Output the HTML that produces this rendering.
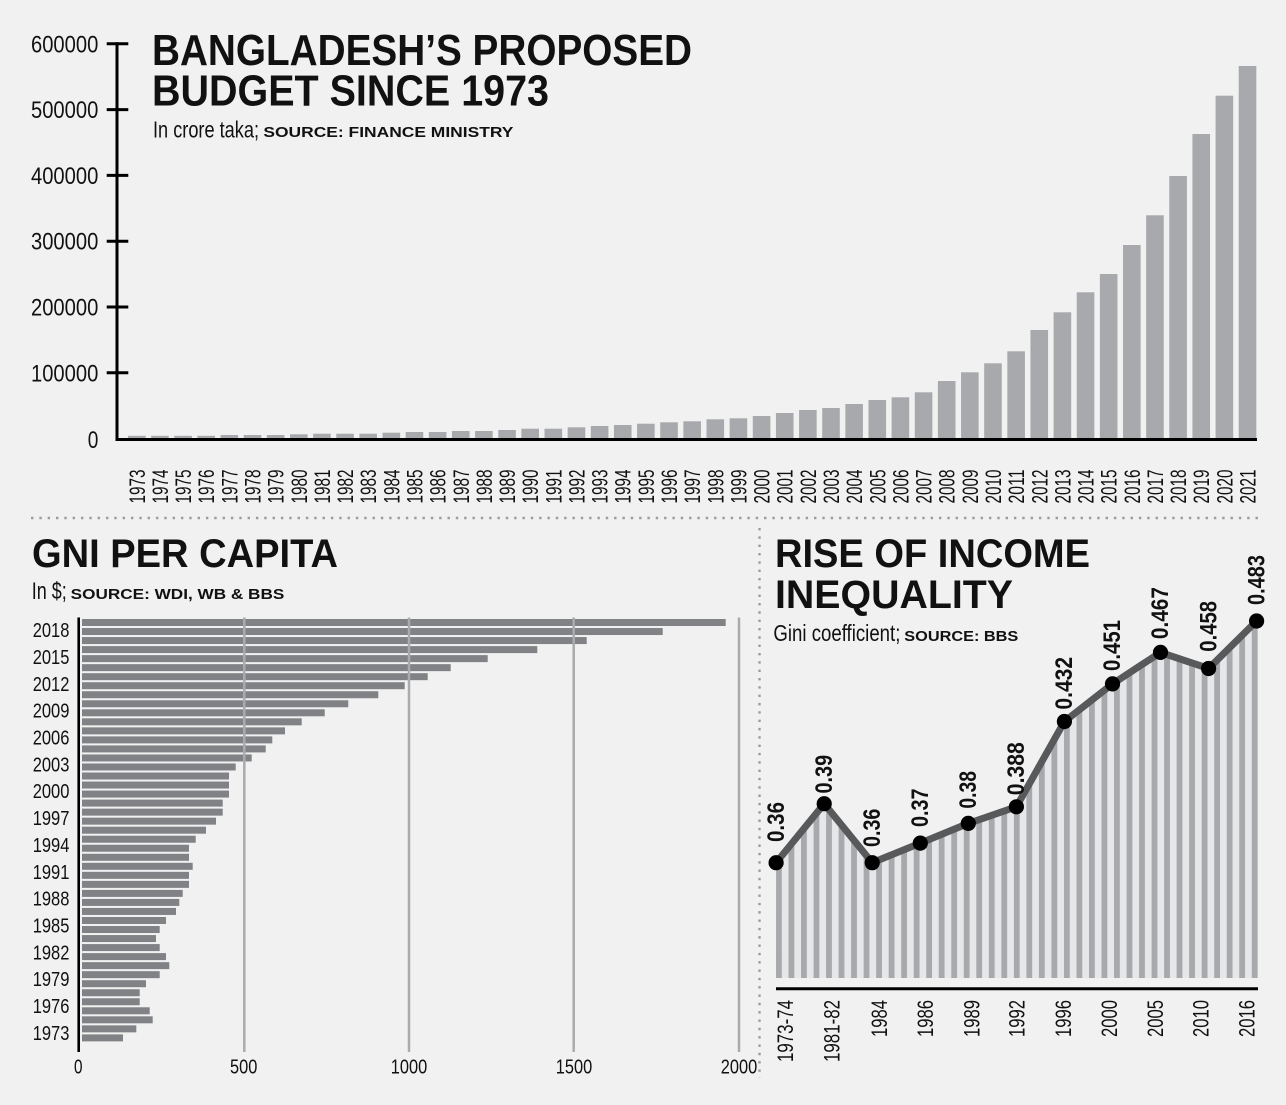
<!DOCTYPE html>
<html>
<head>
<meta charset="utf-8">
<style>
html,body{margin:0;padding:0;background:#f1f1f1;}
svg{display:block;}
text{font-family:"Liberation Sans",sans-serif;fill:#111;}
.b{font-weight:bold;}
</style>
</head>
<body>
<svg width="1286" height="1105" viewBox="0 0 1286 1105" xmlns="http://www.w3.org/2000/svg">
<defs>
<pattern id="st" x="776" y="0" width="12.52" height="10" patternUnits="userSpaceOnUse">
<rect width="12.52" height="10" fill="#e6e7e8"/>
<rect width="5.8" height="10" fill="#a7a9ac"/>
</pattern>
</defs>
<rect width="1286" height="1105" fill="#f1f1f1"/>

<!-- ===== TOP CHART ===== -->
<g fill="#a7a9ac">
<rect x="128.00" y="435.8" width="17.6" height="2.2"/>
<rect x="151.14" y="435.8" width="17.6" height="2.2"/>
<rect x="174.28" y="435.8" width="17.6" height="2.2"/>
<rect x="197.42" y="435.8" width="17.6" height="2.2"/>
<rect x="220.56" y="435" width="17.6" height="3"/>
<rect x="243.70" y="435" width="17.6" height="3"/>
<rect x="266.84" y="435" width="17.6" height="3"/>
<rect x="289.98" y="434.3" width="17.6" height="3.7"/>
<rect x="313.12" y="433.7" width="17.6" height="4.3"/>
<rect x="336.26" y="433.7" width="17.6" height="4.3"/>
<rect x="359.40" y="433.7" width="17.6" height="4.3"/>
<rect x="382.54" y="432.7" width="17.6" height="5.3"/>
<rect x="405.68" y="432" width="17.6" height="6"/>
<rect x="428.82" y="432" width="17.6" height="6"/>
<rect x="451.96" y="431" width="17.6" height="7"/>
<rect x="475.10" y="431" width="17.6" height="7"/>
<rect x="498.24" y="430" width="17.6" height="8"/>
<rect x="521.38" y="428.7" width="17.6" height="9.3"/>
<rect x="544.52" y="428.7" width="17.6" height="9.3"/>
<rect x="567.66" y="427.3" width="17.6" height="10.7"/>
<rect x="590.80" y="426" width="17.6" height="12"/>
<rect x="613.94" y="425" width="17.6" height="13"/>
<rect x="637.08" y="423.7" width="17.6" height="14.3"/>
<rect x="660.22" y="422.3" width="17.6" height="15.7"/>
<rect x="683.36" y="421.3" width="17.6" height="16.7"/>
<rect x="706.50" y="419.3" width="17.6" height="18.7"/>
<rect x="729.64" y="418.3" width="17.6" height="19.7"/>
<rect x="752.78" y="416" width="17.6" height="22"/>
<rect x="775.92" y="413" width="17.6" height="25"/>
<rect x="799.06" y="410" width="17.6" height="28"/>
<rect x="822.20" y="408" width="17.6" height="30"/>
<rect x="845.34" y="404" width="17.6" height="34"/>
<rect x="868.48" y="400" width="17.6" height="38"/>
<rect x="891.62" y="397.3" width="17.6" height="40.7"/>
<rect x="914.76" y="392.3" width="17.6" height="45.7"/>
<rect x="937.90" y="381" width="17.6" height="57"/>
<rect x="961.04" y="372.3" width="17.6" height="65.7"/>
<rect x="984.18" y="363.3" width="17.6" height="74.7"/>
<rect x="1007.32" y="351.3" width="17.6" height="86.7"/>
<rect x="1030.46" y="330" width="17.6" height="108"/>
<rect x="1053.60" y="312.3" width="17.6" height="125.7"/>
<rect x="1076.74" y="292.3" width="17.6" height="145.7"/>
<rect x="1099.88" y="274" width="17.6" height="164"/>
<rect x="1123.02" y="245" width="17.6" height="193"/>
<rect x="1146.16" y="215.3" width="17.6" height="222.7"/>
<rect x="1169.30" y="176" width="17.6" height="262"/>
<rect x="1192.44" y="134" width="17.6" height="304"/>
<rect x="1215.58" y="95.7" width="17.6" height="342.3"/>
<rect x="1238.72" y="66" width="17.6" height="372"/>
</g>

<!-- axes -->
<line x1="117" y1="42.3" x2="117" y2="441" stroke="#000" stroke-width="3"/>
<line x1="115.5" y1="439.5" x2="1257" y2="439.5" stroke="#000" stroke-width="3"/>
<g stroke="#000" stroke-width="3">
<line x1="106.7" y1="43.8" x2="128.3" y2="43.8"/>
<line x1="106.7" y1="109.6" x2="128.3" y2="109.6"/>
<line x1="106.7" y1="175.4" x2="128.3" y2="175.4"/>
<line x1="106.7" y1="241.2" x2="128.3" y2="241.2"/>
<line x1="106.7" y1="307" x2="128.3" y2="307"/>
<line x1="106.7" y1="372.8" x2="128.3" y2="372.8"/>
</g>
<g font-size="24">
<text x="31" y="52.3" textLength="67.3" lengthAdjust="spacingAndGlyphs">600000</text>
<text x="31" y="118.1" textLength="67.3" lengthAdjust="spacingAndGlyphs">500000</text>
<text x="31" y="183.9" textLength="67.3" lengthAdjust="spacingAndGlyphs">400000</text>
<text x="31" y="249.7" textLength="67.3" lengthAdjust="spacingAndGlyphs">300000</text>
<text x="31" y="315.5" textLength="67.3" lengthAdjust="spacingAndGlyphs">200000</text>
<text x="31" y="381.3" textLength="67.3" lengthAdjust="spacingAndGlyphs">100000</text>
<text x="87.7" y="447.8" textLength="10.6" lengthAdjust="spacingAndGlyphs">0</text>
</g>

<!-- year labels -->
<g transform="rotate(-90)" font-size="22">
<text x="-503.5" y="144.8" textLength="34" lengthAdjust="spacingAndGlyphs">1973</text>
<text x="-503.5" y="167.94" textLength="34" lengthAdjust="spacingAndGlyphs">1974</text>
<text x="-503.5" y="191.08" textLength="34" lengthAdjust="spacingAndGlyphs">1975</text>
<text x="-503.5" y="214.22" textLength="34" lengthAdjust="spacingAndGlyphs">1976</text>
<text x="-503.5" y="237.36" textLength="34" lengthAdjust="spacingAndGlyphs">1977</text>
<text x="-503.5" y="260.5" textLength="34" lengthAdjust="spacingAndGlyphs">1978</text>
<text x="-503.5" y="283.64" textLength="34" lengthAdjust="spacingAndGlyphs">1979</text>
<text x="-503.5" y="306.78" textLength="34" lengthAdjust="spacingAndGlyphs">1980</text>
<text x="-503.5" y="329.92" textLength="34" lengthAdjust="spacingAndGlyphs">1981</text>
<text x="-503.5" y="353.06" textLength="34" lengthAdjust="spacingAndGlyphs">1982</text>
<text x="-503.5" y="376.2" textLength="34" lengthAdjust="spacingAndGlyphs">1983</text>
<text x="-503.5" y="399.34" textLength="34" lengthAdjust="spacingAndGlyphs">1984</text>
<text x="-503.5" y="422.48" textLength="34" lengthAdjust="spacingAndGlyphs">1985</text>
<text x="-503.5" y="445.62" textLength="34" lengthAdjust="spacingAndGlyphs">1986</text>
<text x="-503.5" y="468.76" textLength="34" lengthAdjust="spacingAndGlyphs">1987</text>
<text x="-503.5" y="491.9" textLength="34" lengthAdjust="spacingAndGlyphs">1988</text>
<text x="-503.5" y="515.04" textLength="34" lengthAdjust="spacingAndGlyphs">1989</text>
<text x="-503.5" y="538.18" textLength="34" lengthAdjust="spacingAndGlyphs">1990</text>
<text x="-503.5" y="561.32" textLength="34" lengthAdjust="spacingAndGlyphs">1991</text>
<text x="-503.5" y="584.46" textLength="34" lengthAdjust="spacingAndGlyphs">1992</text>
<text x="-503.5" y="607.6" textLength="34" lengthAdjust="spacingAndGlyphs">1993</text>
<text x="-503.5" y="630.74" textLength="34" lengthAdjust="spacingAndGlyphs">1994</text>
<text x="-503.5" y="653.88" textLength="34" lengthAdjust="spacingAndGlyphs">1995</text>
<text x="-503.5" y="677.02" textLength="34" lengthAdjust="spacingAndGlyphs">1996</text>
<text x="-503.5" y="700.16" textLength="34" lengthAdjust="spacingAndGlyphs">1997</text>
<text x="-503.5" y="723.3" textLength="34" lengthAdjust="spacingAndGlyphs">1998</text>
<text x="-503.5" y="746.44" textLength="34" lengthAdjust="spacingAndGlyphs">1999</text>
<text x="-503.5" y="769.58" textLength="34" lengthAdjust="spacingAndGlyphs">2000</text>
<text x="-503.5" y="792.72" textLength="34" lengthAdjust="spacingAndGlyphs">2001</text>
<text x="-503.5" y="815.86" textLength="34" lengthAdjust="spacingAndGlyphs">2002</text>
<text x="-503.5" y="839.0" textLength="34" lengthAdjust="spacingAndGlyphs">2003</text>
<text x="-503.5" y="862.14" textLength="34" lengthAdjust="spacingAndGlyphs">2004</text>
<text x="-503.5" y="885.28" textLength="34" lengthAdjust="spacingAndGlyphs">2005</text>
<text x="-503.5" y="908.42" textLength="34" lengthAdjust="spacingAndGlyphs">2006</text>
<text x="-503.5" y="931.56" textLength="34" lengthAdjust="spacingAndGlyphs">2007</text>
<text x="-503.5" y="954.7" textLength="34" lengthAdjust="spacingAndGlyphs">2008</text>
<text x="-503.5" y="977.84" textLength="34" lengthAdjust="spacingAndGlyphs">2009</text>
<text x="-503.5" y="1000.98" textLength="34" lengthAdjust="spacingAndGlyphs">2010</text>
<text x="-503.5" y="1024.12" textLength="34" lengthAdjust="spacingAndGlyphs">2011</text>
<text x="-503.5" y="1047.26" textLength="34" lengthAdjust="spacingAndGlyphs">2012</text>
<text x="-503.5" y="1070.4" textLength="34" lengthAdjust="spacingAndGlyphs">2013</text>
<text x="-503.5" y="1093.54" textLength="34" lengthAdjust="spacingAndGlyphs">2014</text>
<text x="-503.5" y="1116.68" textLength="34" lengthAdjust="spacingAndGlyphs">2015</text>
<text x="-503.5" y="1139.82" textLength="34" lengthAdjust="spacingAndGlyphs">2016</text>
<text x="-503.5" y="1162.96" textLength="34" lengthAdjust="spacingAndGlyphs">2017</text>
<text x="-503.5" y="1186.1" textLength="34" lengthAdjust="spacingAndGlyphs">2018</text>
<text x="-503.5" y="1209.24" textLength="34" lengthAdjust="spacingAndGlyphs">2019</text>
<text x="-503.5" y="1232.38" textLength="34" lengthAdjust="spacingAndGlyphs">2020</text>
<text x="-503.5" y="1255.52" textLength="34" lengthAdjust="spacingAndGlyphs">2021</text>
</g>

<!-- Top title -->
<text class="b" x="152" y="65" font-size="44" textLength="540" lengthAdjust="spacingAndGlyphs">BANGLADESH’S PROPOSED</text>
<text class="b" x="152" y="105.5" font-size="44" textLength="397" lengthAdjust="spacingAndGlyphs">BUDGET SINCE 1973</text>
<text x="153" y="137.5" font-size="23" textLength="106" lengthAdjust="spacingAndGlyphs">In crore taka;</text>
<text class="b" x="263.4" y="137" font-size="14.5" textLength="250" lengthAdjust="spacingAndGlyphs">SOURCE: FINANCE MINISTRY</text>

<!-- dotted separators -->
<line x1="31" y1="518" x2="1258" y2="518" stroke="#9c9c9c" stroke-width="2.4" stroke-dasharray="2.4 5.93"/>
<line x1="759.5" y1="528" x2="759.5" y2="1078" stroke="#9c9c9c" stroke-width="2.4" stroke-dasharray="2.4 5.93"/>

<!-- ===== GNI CHART ===== -->
<text class="b" x="32" y="567" font-size="40" textLength="306" lengthAdjust="spacingAndGlyphs">GNI PER CAPITA</text>
<text x="31.7" y="599" font-size="24" textLength="35" lengthAdjust="spacingAndGlyphs">In $;</text>
<text class="b" x="70.7" y="599" font-size="14.5" textLength="213.6" lengthAdjust="spacingAndGlyphs">SOURCE: WDI, WB &amp; BBS</text>

<g fill="#808285">
<rect x="82" y="619.00" width="643.7" height="7"/>
<rect x="82" y="628.03" width="580.7" height="7"/>
<rect x="82" y="637.06" width="504.7" height="7"/>
<rect x="82" y="646.09" width="455.3" height="7"/>
<rect x="82" y="655.12" width="405.7" height="7"/>
<rect x="82" y="664.15" width="368.7" height="7"/>
<rect x="82" y="673.18" width="345.7" height="7"/>
<rect x="82" y="682.21" width="322.7" height="7"/>
<rect x="82" y="691.24" width="296.3" height="7"/>
<rect x="82" y="700.27" width="266.3" height="7"/>
<rect x="82" y="709.30" width="242.7" height="7"/>
<rect x="82" y="718.33" width="219.7" height="7"/>
<rect x="82" y="727.36" width="203" height="7"/>
<rect x="82" y="736.39" width="190.3" height="7"/>
<rect x="82" y="745.42" width="183.7" height="7"/>
<rect x="82" y="754.45" width="169.7" height="7"/>
<rect x="82" y="763.48" width="153.7" height="7"/>
<rect x="82" y="772.51" width="147" height="7"/>
<rect x="82" y="781.54" width="147" height="7"/>
<rect x="82" y="790.57" width="147" height="7"/>
<rect x="82" y="799.60" width="140.7" height="7"/>
<rect x="82" y="808.63" width="140.7" height="7"/>
<rect x="82" y="817.66" width="134" height="7"/>
<rect x="82" y="826.69" width="124" height="7"/>
<rect x="82" y="835.72" width="113.7" height="7"/>
<rect x="82" y="844.75" width="107" height="7"/>
<rect x="82" y="853.78" width="107" height="7"/>
<rect x="82" y="862.81" width="110.7" height="7"/>
<rect x="82" y="871.84" width="107" height="7"/>
<rect x="82" y="880.87" width="107" height="7"/>
<rect x="82" y="889.90" width="100.7" height="7"/>
<rect x="82" y="898.93" width="97.3" height="7"/>
<rect x="82" y="907.96" width="94" height="7"/>
<rect x="82" y="916.99" width="84" height="7"/>
<rect x="82" y="926.02" width="77.7" height="7"/>
<rect x="82" y="935.05" width="74" height="7"/>
<rect x="82" y="944.08" width="77.7" height="7"/>
<rect x="82" y="953.11" width="84" height="7"/>
<rect x="82" y="962.14" width="87.3" height="7"/>
<rect x="82" y="971.17" width="77.7" height="7"/>
<rect x="82" y="980.20" width="64" height="7"/>
<rect x="82" y="989.23" width="57.7" height="7"/>
<rect x="82" y="998.26" width="57.7" height="7"/>
<rect x="82" y="1007.29" width="67.7" height="7"/>
<rect x="82" y="1016.32" width="70.7" height="7"/>
<rect x="82" y="1025.35" width="54.3" height="7"/>
<rect x="82" y="1034.38" width="41" height="7"/>
</g>
<g stroke="#a9abae" stroke-width="2.5">
<line x1="244.3" y1="617.5" x2="244.3" y2="1052"/>
<line x1="409" y1="617.5" x2="409" y2="1052"/>
<line x1="573.7" y1="617.5" x2="573.7" y2="1052"/>
<line x1="739" y1="617.5" x2="739" y2="1052"/>
</g>
<line x1="78.7" y1="617.5" x2="78.7" y2="1052" stroke="#000" stroke-width="2.6"/>

<g font-size="20">
<text x="32.7" y="637.1" textLength="36.7" lengthAdjust="spacingAndGlyphs">2018</text>
<text x="32.7" y="663.95" textLength="36.7" lengthAdjust="spacingAndGlyphs">2015</text>
<text x="32.7" y="690.8" textLength="36.7" lengthAdjust="spacingAndGlyphs">2012</text>
<text x="32.7" y="717.65" textLength="36.7" lengthAdjust="spacingAndGlyphs">2009</text>
<text x="32.7" y="744.5" textLength="36.7" lengthAdjust="spacingAndGlyphs">2006</text>
<text x="32.7" y="771.35" textLength="36.7" lengthAdjust="spacingAndGlyphs">2003</text>
<text x="32.7" y="798.2" textLength="36.7" lengthAdjust="spacingAndGlyphs">2000</text>
<text x="32.7" y="825.05" textLength="36.7" lengthAdjust="spacingAndGlyphs">1997</text>
<text x="32.7" y="851.9" textLength="36.7" lengthAdjust="spacingAndGlyphs">1994</text>
<text x="32.7" y="878.75" textLength="36.7" lengthAdjust="spacingAndGlyphs">1991</text>
<text x="32.7" y="905.6" textLength="36.7" lengthAdjust="spacingAndGlyphs">1988</text>
<text x="32.7" y="932.45" textLength="36.7" lengthAdjust="spacingAndGlyphs">1985</text>
<text x="32.7" y="959.3" textLength="36.7" lengthAdjust="spacingAndGlyphs">1982</text>
<text x="32.7" y="986.15" textLength="36.7" lengthAdjust="spacingAndGlyphs">1979</text>
<text x="32.7" y="1013.0" textLength="36.7" lengthAdjust="spacingAndGlyphs">1976</text>
<text x="32.7" y="1039.85" textLength="36.7" lengthAdjust="spacingAndGlyphs">1973</text>
<text x="74" y="1073.6" textLength="8.5" lengthAdjust="spacingAndGlyphs">0</text>
<text x="230" y="1073.6" textLength="27.3" lengthAdjust="spacingAndGlyphs">500</text>
<text x="390.8" y="1073.6" textLength="36.4" lengthAdjust="spacingAndGlyphs">1000</text>
<text x="555.8" y="1073.6" textLength="36.4" lengthAdjust="spacingAndGlyphs">1500</text>
<text x="720.8" y="1073.6" textLength="36.4" lengthAdjust="spacingAndGlyphs">2000</text>
</g>

<!-- ===== INEQUALITY CHART ===== -->
<text class="b" x="775" y="567" font-size="40" textLength="315" lengthAdjust="spacingAndGlyphs">RISE OF INCOME</text>
<text class="b" x="775" y="608" font-size="40" textLength="238" lengthAdjust="spacingAndGlyphs">INEQUALITY</text>
<text x="773.4" y="640.8" font-size="23" textLength="127" lengthAdjust="spacingAndGlyphs">Gini coefficient;</text>
<text class="b" x="904.3" y="640.8" font-size="14.5" textLength="114" lengthAdjust="spacingAndGlyphs">SOURCE: BBS</text>

<polygon points="776.1,862.7 824.2,803.7 872.2,862.7 920.3,843.1 968.3,823.4 1016.4,806.8 1064.4,721.5 1112.5,683.9 1160.5,652.4 1208.6,668.5 1256.6,621 1258,621 1258,978 776,978" fill="url(#st)"/>

<polyline points="776.1,862.7 824.2,803.7 872.2,862.7 920.3,843.1 968.3,823.4 1016.4,806.8 1064.4,721.5 1112.5,683.9 1160.5,652.4 1208.6,668.5 1256.6,621" fill="none" stroke="#58595b" stroke-width="7" stroke-linejoin="round"/>
<g fill="#000">
<circle cx="776.1" cy="862.7" r="7.6"/>
<circle cx="824.2" cy="803.7" r="7.6"/>
<circle cx="872.2" cy="862.7" r="7.6"/>
<circle cx="920.3" cy="843.1" r="7.6"/>
<circle cx="968.3" cy="823.4" r="7.6"/>
<circle cx="1016.4" cy="806.8" r="7.6"/>
<circle cx="1064.4" cy="721.5" r="7.6"/>
<circle cx="1112.5" cy="683.9" r="7.6"/>
<circle cx="1160.5" cy="652.4" r="7.6"/>
<circle cx="1208.6" cy="668.5" r="7.6"/>
<circle cx="1256.6" cy="621" r="7.6"/>
</g>

<line x1="776" y1="988.7" x2="1258" y2="988.7" stroke="#000" stroke-width="3"/>

<!-- value labels -->
<g transform="rotate(-90)" font-size="24" font-weight="bold">
<text x="-842" y="783.8" textLength="40" lengthAdjust="spacingAndGlyphs">0.36</text>
<text x="-793.5" y="831.9" textLength="38.6" lengthAdjust="spacingAndGlyphs">0.39</text>
<text x="-847" y="879.9" textLength="38.4" lengthAdjust="spacingAndGlyphs">0.36</text>
<text x="-827" y="928" textLength="38.5" lengthAdjust="spacingAndGlyphs">0.37</text>
<text x="-808.6" y="976" textLength="37.6" lengthAdjust="spacingAndGlyphs">0.38</text>
<text x="-795.2" y="1024.1" textLength="53" lengthAdjust="spacingAndGlyphs">0.388</text>
<text x="-709.6" y="1072.1" textLength="52.7" lengthAdjust="spacingAndGlyphs">0.432</text>
<text x="-671" y="1120.2" textLength="51" lengthAdjust="spacingAndGlyphs">0.451</text>
<text x="-639.1" y="1168.2" textLength="52" lengthAdjust="spacingAndGlyphs">0.467</text>
<text x="-651.7" y="1216.3" textLength="50.7" lengthAdjust="spacingAndGlyphs">0.458</text>
<text x="-605" y="1264.3" textLength="50" lengthAdjust="spacingAndGlyphs">0.483</text>
</g>

<!-- x labels -->
<g transform="rotate(-90)" font-size="22">
<text x="-1062" y="793.2" textLength="62" lengthAdjust="spacingAndGlyphs">1973-74</text>
<text x="-1062" y="839.5" textLength="62" lengthAdjust="spacingAndGlyphs">1981-82</text>
<text x="-1037" y="887.1" textLength="37" lengthAdjust="spacingAndGlyphs">1984</text>
<text x="-1037" y="933.1" textLength="37" lengthAdjust="spacingAndGlyphs">1986</text>
<text x="-1037" y="979.4" textLength="37" lengthAdjust="spacingAndGlyphs">1989</text>
<text x="-1037" y="1024.7" textLength="37" lengthAdjust="spacingAndGlyphs">1992</text>
<text x="-1037" y="1071" textLength="37" lengthAdjust="spacingAndGlyphs">1996</text>
<text x="-1037" y="1117" textLength="37" lengthAdjust="spacingAndGlyphs">2000</text>
<text x="-1037" y="1163" textLength="37" lengthAdjust="spacingAndGlyphs">2005</text>
<text x="-1037" y="1208.6" textLength="37" lengthAdjust="spacingAndGlyphs">2010</text>
<text x="-1037" y="1254.6" textLength="37" lengthAdjust="spacingAndGlyphs">2016</text>
</g>
</svg>
</body>
</html>
